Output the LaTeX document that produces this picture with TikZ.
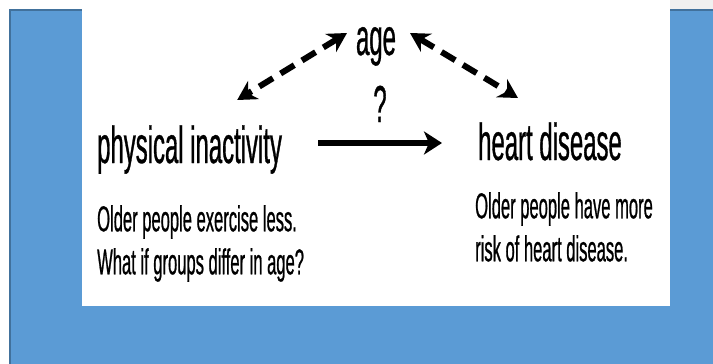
\documentclass[tikz,border=0pt]{standalone}
\usepackage{fontspec}
\setmainfont[FakeStretch=0.46,FakeBold=0.6]{Liberation Sans}
\usetikzlibrary{arrows.meta,calc}
\definecolor{slideblue}{RGB}{91,155,213}
\definecolor{slideedge}{RGB}{65,113,156}
\definecolor{stripgray}{RGB}{240,240,240}
\tikzset{
  label big/.style={inner sep=0pt,font=\fontsize{52}{52}\selectfont},
  label note/.style={inner sep=0pt,align=left,anchor=north west,font=\fontsize{36}{43}\selectfont},
  confound/.style={line width=6pt,dash pattern=on 16pt off 9pt,
    {Stealth[length=19pt,width=21pt]}-{Stealth[length=19pt,width=21pt]}},
  cause/.style={line width=6pt,-{Stealth[length=18pt,width=23pt,inset=5pt]}},
}

\begin{document}
\begin{tikzpicture}[x=1pt,y=-1pt]
  \path[use as bounding box] (0,0) rectangle (713,364);
  \fill[white] (0,0) rectangle (713,364);
  \fill[stripgray] (670,0) rectangle (713,10);
  \fill[slideblue] (10,10) rectangle (713,364);
  \draw[slideedge,line width=1.2pt] (10,364) -- (10,10) -- (713,10);
  \fill[white] (82,0) rectangle (670,306);

  \node[label big,anchor=base] (age) at (376,55) {age};
  \node[label big,anchor=base] (q) at (380,122) {?};
  \node[label big,anchor=base west] (inact) at (97,163) {physical inactivity};
  \node[label big,anchor=base west] (heart) at (478,160) {heart disease};
  \node[label note] (inactnote) at (97,205) {Older people exercise less.\\What if groups differ in age?};
  \node[label note] (heartnote) at (475,192) {Older people have more\\risk of heart disease.};

  \draw[confound] ($(age.base)+(-29,-22)$) -- ($(inact.base east)+(-45,-63)$);
  \draw[confound] ($(age.base)+(34,-22)$) -- ($(heart.base west)+(40,-62)$);
  \draw[cause] ($(inact.base east)+(36,-20)$) -- ($(heart.base west)+(-36,-17)$);
\end{tikzpicture}
\end{document}
